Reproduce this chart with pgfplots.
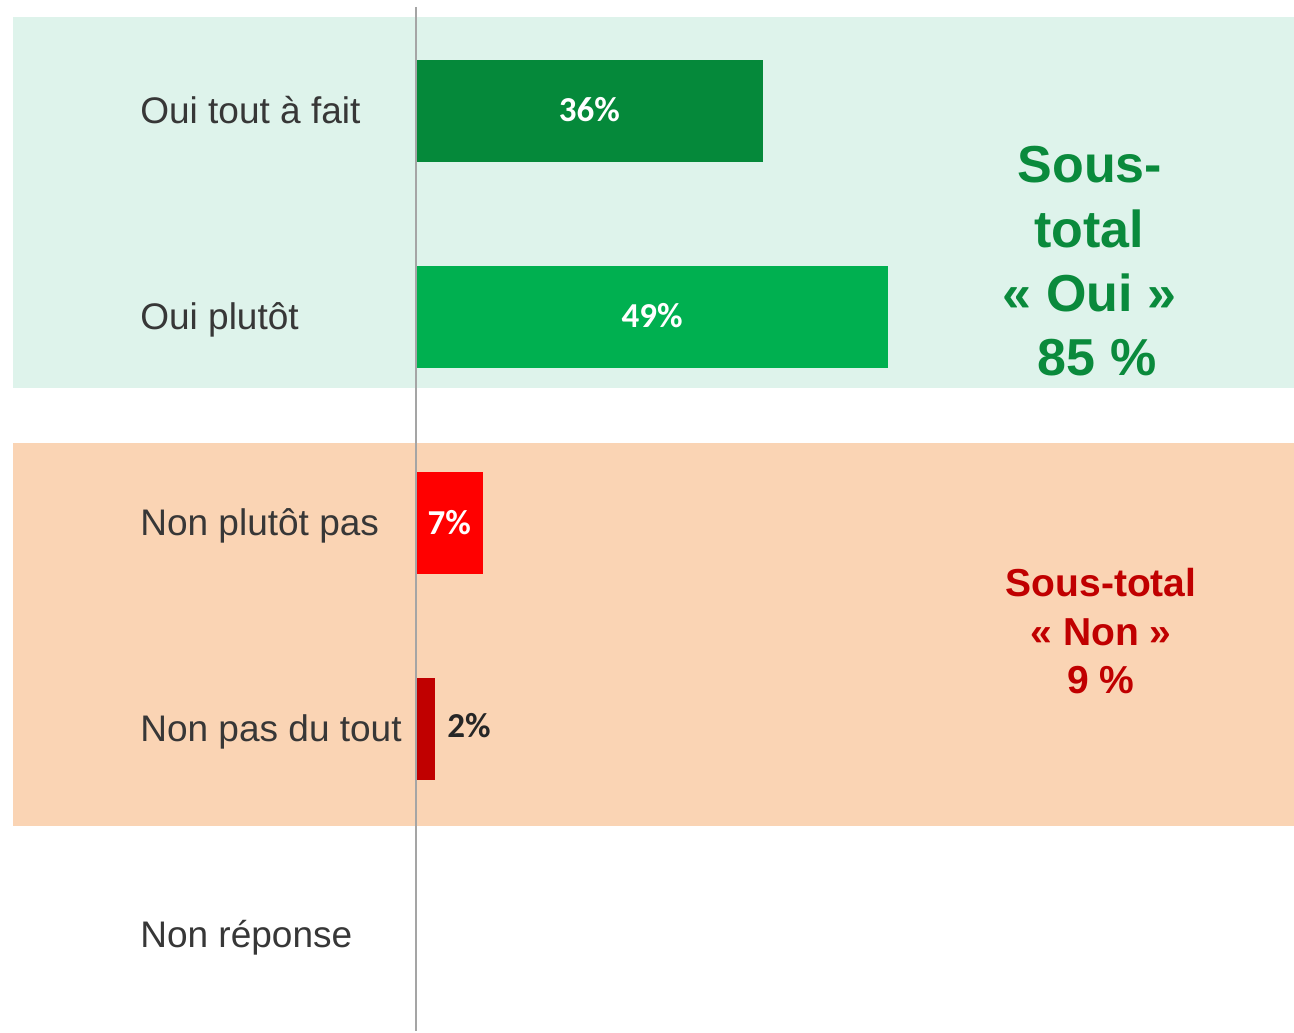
\documentclass[border=0pt]{standalone}
\usepackage{pgfplots}
\pgfplotsset{compat=1.18}
\usepackage{fontspec}
\setmainfont{Liberation Sans}
\newfontfamily\calfont{Carlito}
\definecolor{bggreen}{RGB}{222,243,235}
\definecolor{bgpeach}{RGB}{250,212,180}
\definecolor{dkgreen}{RGB}{5,137,58}
\definecolor{ltgreen}{RGB}{0,176,80}
\definecolor{brred}{RGB}{255,0,0}
\definecolor{dkred}{RGB}{192,0,0}
\definecolor{txtgreen}{RGB}{10,138,60}
\definecolor{txtred}{RGB}{192,0,0}
\definecolor{lbl}{RGB}{55,55,55}
\definecolor{axgray}{RGB}{165,165,165}
\begin{document}
\begin{tikzpicture}
\begin{axis}[
  scale only axis, width=647pt, height=515.5pt,
  xmin=-43.18, xmax=91.13,
  ymin=-0.5388, ymax=4.466, y dir=reverse,
  hide axis, clip=false,
]
% full-size bounding box
\path (rel axis cs:0,0) rectangle (rel axis cs:1,1);
% backgrounds
\addplot[fill=bggreen, draw=none] coordinates {(-41.83,-0.456) (91.13,-0.456) (91.13,1.345) (-41.83,1.345)} -- cycle;
\addplot[fill=bgpeach, draw=none] coordinates {(-41.83,1.612) (91.13,1.612) (91.13,3.471) (-41.83,3.471)} -- cycle;
% bars
\addplot[xbar, bar width=51pt, bar shift=0pt, fill=dkgreen, draw=none] coordinates {(36,0)};
\addplot[xbar, bar width=51pt, bar shift=0pt, fill=ltgreen, draw=none] coordinates {(49,1)};
\addplot[xbar, bar width=51pt, bar shift=0pt, fill=brred, draw=none] coordinates {(7,2)};
\addplot[xbar, bar width=51pt, bar shift=0pt, fill=dkred, draw=none] coordinates {(2,3)};
% axis line
\addplot[axgray, line width=1.3pt] coordinates {(0,-0.505) (0,4.466)};
% category labels
\begin{scope}[every node/.style={anchor=base west, text=lbl, font=\fontsize{18.5}{22}\selectfont, inner sep=0pt}]
\node at (axis cs:-28.65,0.063) {Oui tout à fait};
\node at (axis cs:-28.65,1.063) {Oui plutôt};
\node at (axis cs:-28.65,2.063) {Non plutôt pas};
\node at (axis cs:-28.65,3.063) {Non pas du tout};
\node at (axis cs:-28.65,4.063) {Non réponse};
\end{scope}
% value labels
\begin{scope}[every node/.style={anchor=base, font=\calfont\bfseries\fontsize{17.5}{20}\selectfont, inner sep=0pt}]
\node[text=white] at (axis cs:18,0.053) {36\%};
\node[text=white] at (axis cs:24.5,1.053) {49\%};
\node[text=white] at (axis cs:3.45,2.058) {7\%};
\node[text=black!85] at (axis cs:5.5,3.039) {2\%};
\end{scope}
% subtotal Oui
\begin{scope}[every node/.style={anchor=base, text=txtgreen, font=\bfseries\fontsize{26}{32}\selectfont, inner sep=0pt}]
\node at (axis cs:69.95,0.3495) {Sous-};
\node at (axis cs:69.9,0.665) {total};
\node at (axis cs:69.9,0.9757) {« Oui »};
\node at (axis cs:70.7,1.2816) {85 \%};
\end{scope}
% subtotal Non
\begin{scope}[every node/.style={anchor=base, text=txtred, font=\bfseries\fontsize{19.5}{24}\selectfont, inner sep=0pt}]
\node at (axis cs:71.1,2.359) {Sous-total};
\node at (axis cs:71.1,2.597) {« Non »};
\node at (axis cs:71.1,2.830) {9 \%};
\end{scope}
\end{axis}
\end{tikzpicture}
\end{document}
